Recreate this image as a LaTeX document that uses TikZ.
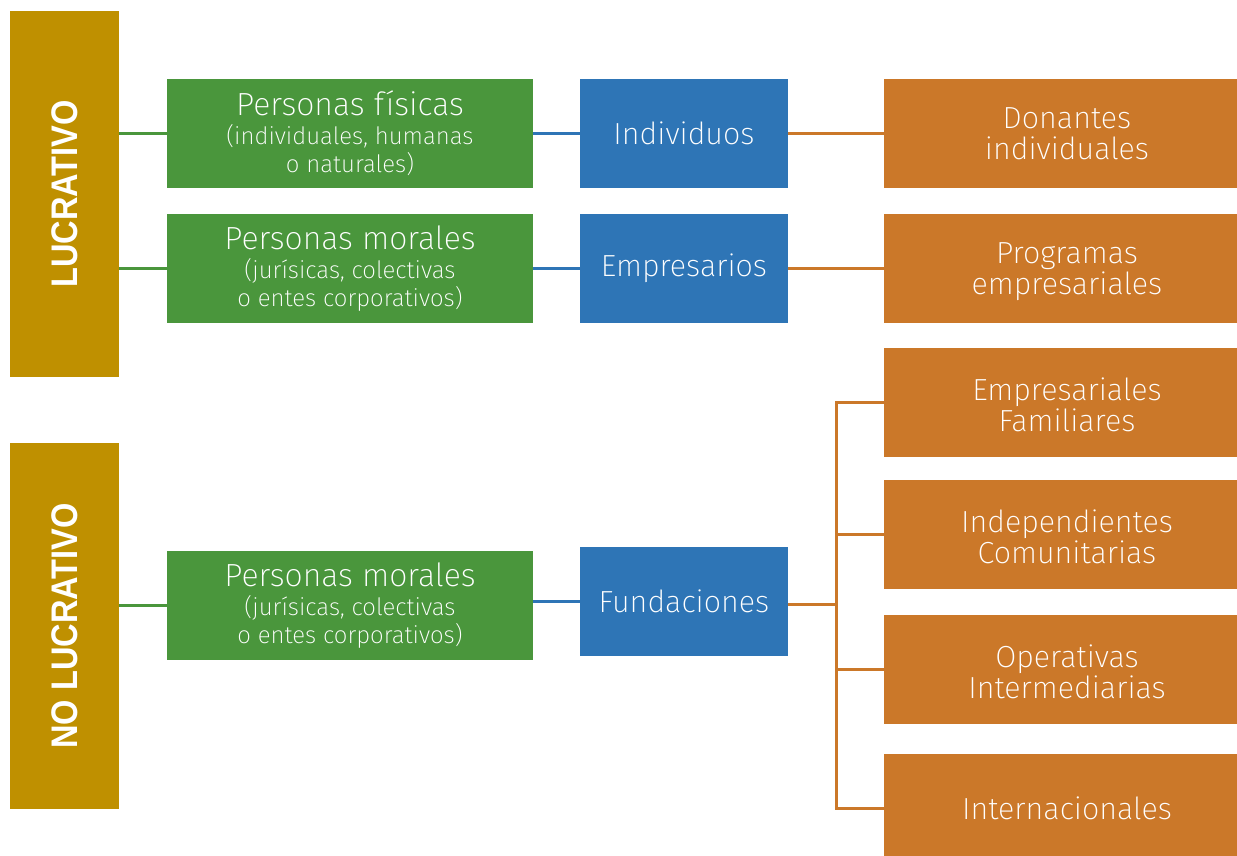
\documentclass[tikz,border=0pt]{standalone}
\usepackage{fontspec}
\setmainfont{Fira Sans}[UprightFont=* ExtraLight]
\newfontfamily\labelfont{Liberation Sans}[BoldFont=* Bold]
\definecolor{goldbar}{HTML}{BF9000}
\definecolor{greenbox}{HTML}{4A963C}
\definecolor{bluebox}{HTML}{2E75B6}
\definecolor{orangebox}{HTML}{CB7829}
% headline of a green box
\newcommand{\headline}[1]{{\fontsize{32}{32}\selectfont #1}}
% two centred lines with a fixed strut box: #1 = height above the first baseline
\newcommand{\twolines}[3][28.6]{\rule{0pt}{#1pt}#2\\#3\rule[-8pt]{0pt}{8pt}}
\begin{document}
\begin{tikzpicture}[x=1pt,y=-1pt,
  base/.style={inner sep=0pt, outer sep=0pt, text=white, align=center},
  sidebar/.style={base, fill=goldbar, minimum width=109pt, minimum height=366pt},
  sidetext/.style={rotate=90, text=white, font=\labelfont\bfseries\fontsize{37}{40}\selectfont},
  greenbx/.style={base, fill=greenbox, minimum width=366pt, minimum height=109pt,
    font=\fontsize{24}{28}\selectfont},
  bluebx/.style={base, fill=bluebox, minimum width=208pt, minimum height=109pt,
    font=\fontsize{30.5}{31}\selectfont},
  orangebx/.style={base, fill=orangebox, minimum width=366pt, minimum height=109pt,
    font=\fontsize{30.5}{31}\selectfont},
  link/.style={line width=3pt}
]
\useasboundingbox (0,0) rectangle (1237,856);
\clip (0,0) rectangle (1237,856);

% side categories
\node[sidebar] (lucr) at (64.5,194) {};
\node[sidetext] (lucrtext) at (lucr.center) {\scalebox{0.88}[1]{LUCRATIVO}};
\node[sidebar] (nolucr) at (64.5,626) {};
\node[sidetext] (nolucrtext) at (nolucr.center) {\scalebox{0.88}[1]{NO LUCRATIVO}};

% legal persons
\node[greenbx] (g1) at (350,133.5) {\headline{Personas físicas}\\[1pt](individuales, humanas\\o naturales)};
\node[greenbx] (g2) at (350,268.5) {\headline{Personas morales}\\[1pt](jurísicas, colectivas\\o entes corporativos)};
\node[greenbx] (g3) at (350,605.5) {\headline{Personas morales}\\[1pt](jurísicas, colectivas\\o entes corporativos)};

% actors
\node[bluebx] (b1) at (684,133.5) {Individuos};
\node[bluebx] (b2) at (684,268.5) {Empresarios};
\node[bluebx] (b3) at (684,601.5) {Fundaciones};

% programmes
\node[orangebx] (o1) at (1067,133.5) {\twolines{Donantes}{individuales}};
\node[orangebx] (o2) at (1067,268.5) {\twolines{Programas}{empresariales}};
\node[orangebx] (o3) at (1067,402.5) {\twolines[34.6]{Empresariales}{Familiares}};
\node[orangebx] (o4) at (1067,534.5) {\twolines[34.6]{Independientes}{Comunitarias}};
\node[orangebx] (o5) at (1067,669.5) {\twolines[34.6]{Operativas}{Intermediarias}};
\node[orangebx] (o6) at (1067,808.5) {Internacionales};

% connectors
\draw[link, greenbox] (lucr.east |- g1.west) -- (g1.west);
\draw[link, greenbox] (lucr.east |- g2.west) -- (g2.west);
\draw[link, greenbox] (nolucr.east |- g3.west) -- (g3.west);
\draw[link, bluebox] (g1.east) -- (b1.west);
\draw[link, bluebox] (g2.east) -- (b2.west);
\draw[link, bluebox] (g3.east |- b3.west) -- (b3.west);
\draw[link, orangebox] (b1.east) -- (o1.west);
\draw[link, orangebox] (b2.east) -- (o2.west);

% bracket for foundations
\coordinate (fork) at (836,604);
\draw[link, orangebox] (b3.east |- fork) -- (fork);
\draw[link, orangebox, line join=miter] (o3.west) -- (fork |- o3.west) -- (fork |- o6.west) -- (o6.west);
\draw[link, orangebox] (fork |- o4.west) -- (o4.west);
\draw[link, orangebox] (fork |- o5.west) -- (o5.west);
\end{tikzpicture}
\end{document}
